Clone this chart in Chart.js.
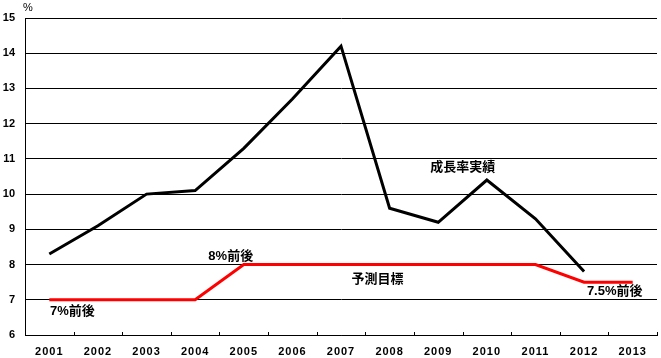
<!DOCTYPE html>
<html><head><meta charset="utf-8">
<script src="https://cdn.jsdelivr.net/npm/chart.js@4/dist/chart.umd.min.js"></script>
<style>html,body{margin:0;padding:0;background:#fff}#wrap{width:661px;height:358px}</style>
</head><body>
<div id="wrap"><canvas id="c" width="661" height="358"></canvas></div>
<script>
const years = ['2001','2002','2003','2004','2005','2006','2007','2008','2009','2010','2011','2012','2013'];
const actualGrowth = [8.3, 9.1, 10.0, 10.1, 11.3, 12.7, 14.2, 9.6, 9.2, 10.4, 9.3, 7.8, null];
const targetGrowth = [7, 7, 7, 7, 8, 8, 8, 8, 8, 8, 8, 7.5, 7.5];
const yMin = 6, yMax = 15, yStep = 1;
const unitLabel = '%';
const noteTexts = ['成長率実績', '予測目標', '8%前後', '7%前後', '7.5%前後'];
// each note anchored to a data point: [series, index]
const noteAnchors = [['actual', 9], ['target', 7], ['target', 4], ['target', 0], ['target', 12]];

const noteOffsets = [[-24, -13], [-12, 15], [-13, -8], [23, 12], [-18, 9]];

const tickFont = {family: '"Liberation Sans", Arial, sans-serif', size: 11, weight: 'bold'};

const extras = {
  id: 'extras',
  afterDraw(chart) {
    const ctx = chart.ctx, xs = chart.scales.x, ys = chart.scales.y, a = chart.chartArea;
    ctx.save();
    // inner tick marks on category boundaries
    ctx.strokeStyle = '#000'; ctx.lineWidth = 1;
    const n = years.length;
    for (let i = 0; i <= n; i++) {
      const x = Math.round(xs.getPixelForValue(i - 0.5)) + 0.5;
      ctx.beginPath(); ctx.moveTo(x, a.bottom - 3); ctx.lineTo(x, a.bottom); ctx.stroke();
    }
    // unit
    ctx.fillStyle = '#000';
    ctx.font = '11px "Liberation Sans", Arial, sans-serif';
    ctx.textAlign = 'center'; ctx.textBaseline = 'middle';
    ctx.fillText(unitLabel, a.left + 3, 8);
    // notes
    ctx.font = 'bold 13px "Liberation Sans", "Noto Sans CJK JP", sans-serif';
    noteTexts.forEach((t, k) => {
      const [s, i] = noteAnchors[k];
      const v = s === 'actual' ? actualGrowth[i] : targetGrowth[i];
      const x = xs.getPixelForValue(i) + noteOffsets[k][0];
      const y = ys.getPixelForValue(v) + noteOffsets[k][1];
      ctx.fillText(t, x, y);
    });
    ctx.restore();
  }
};

new Chart(document.getElementById('c'), {
  type: 'line',
  data: {
    labels: years,
    datasets: [
      {label: '成長率実績', data: actualGrowth, borderColor: '#000', borderWidth: 3, pointRadius: 0, tension: 0, fill: false, spanGaps: false},
      {label: '予測目標', data: targetGrowth, borderColor: '#ff0000', borderWidth: 3, pointRadius: 0, tension: 0, fill: false}
    ]
  },
  options: {
    responsive: false,
    animation: false,
    events: [],
    layout: {padding: {top: 18, right: 4, left: 0, bottom: 0}},
    plugins: {legend: {display: false}, tooltip: {enabled: false}},
    scales: {
      x: {
        offset: true,
        grid: {display: true, drawOnChartArea: false, drawTicks: false},
        border: {display: true, color: '#000', width: 1},
        ticks: {color: '#000', font: tickFont, padding: 10, maxRotation: 0, autoSkip: false},
        afterFit(s) { s.height = 23; },
        afterUpdate(s) {
          if (!s._spaced) {
            const orig = s.drawLabels;
            s.drawLabels = function (area) {
              const c = this.ctx; const prev = c.letterSpacing;
              c.letterSpacing = '1px';
              orig.call(this, area);
              c.letterSpacing = prev || '0px';
            };
            s._spaced = true;
          }
        }
      },
      y: {
        min: yMin, max: yMax,
        grid: {color: '#000', lineWidth: 1, drawTicks: false},
        border: {display: true, color: '#000', width: 1},
        ticks: {stepSize: yStep, color: '#000', font: tickFont, padding: 10},
        afterFit(s) { s.width = 25; }
      }
    }
  },
  plugins: [extras]
});
</script>
</body></html>
